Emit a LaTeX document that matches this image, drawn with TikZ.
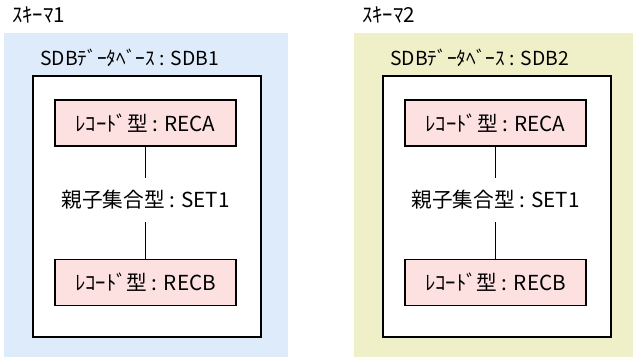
\documentclass[tikz,border=0pt]{standalone}
\usepackage{fontspec}
\setmainfont{Noto Sans CJK JP}
\usetikzlibrary{positioning,calc}
\definecolor{schemablue}{HTML}{DDEBFB}
\definecolor{schemayellow}{HTML}{F0F0C8}
\definecolor{recpink}{HTML}{FDE1E1}
\tikzset{
    schema/.style = {rectangle, inner sep=0pt, anchor=north west,
        minimum width=213pt, minimum height=243pt},
    dbbox/.style = {draw, line width=1.4pt, fill=white, rectangle, anchor=north west,
        minimum width=171pt, minimum height=196pt},
    record/.style = {draw, line width=1.4pt, fill=recpink, rectangle,
        minimum width=135.75pt, minimum height=34.5pt},
    settype/.style = {rectangle, inner sep=0pt, minimum height=33pt},
    title/.style = {anchor=west, inner sep=0pt},
    dbtitle/.style = {title, font=\fontsize{14.5}{16}\selectfont},
    link/.style = {draw, line width=1.4pt}
}

\begin{document}
\begin{tikzpicture}[x=0.75pt, y=-0.75pt, font=\fontsize{15.5}{17}\selectfont]
    \useasboundingbox (0,0) rectangle (633,357);
    \foreach \s/\x/\col in {1/0/schemablue,2/350/schemayellow}{
        \node [schema, fill=\col] (schema\s) at (\x+4,33) {};
        \node [title] (name\s) at (\x+12,15) {ｽｷｰﾏ\s};
        \node [dbtitle] (db\s) at (\x+40,58) {SDBﾃﾞｰﾀﾍﾞｰｽ : SDB\s};
        \node [dbbox] (sdb\s) at (\x+32,75) {};
        \node [record] (reca\s) at (\x+145.5,123) {ﾚｺｰﾄﾞ型 : RECA};
        \node [settype, below of=reca\s, node distance=57.75pt] (set\s) {親子集合型 : SET1};
        \node [record, below of=set\s, node distance=61.9pt] (recb\s) {ﾚｺｰﾄﾞ型 : RECB};
        \draw [link] (reca\s) -- (set\s);
        \draw [link] (set\s) -- (recb\s);
    }
\end{tikzpicture}
\end{document}
